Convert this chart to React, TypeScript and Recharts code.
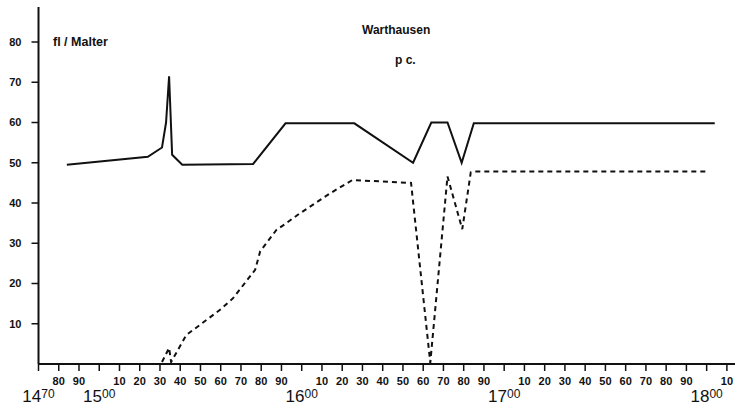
import { LineChart, Line, XAxis, YAxis } from 'recharts';

// fl / Malter series (solid)
const flYears = [1484, 1524, 1531, 1533, 1534.5, 1536, 1541, 1576, 1592, 1626, 1655, 1664, 1672, 1679, 1685, 1804];
const flValues = [49.5, 51.5, 53.8, 60, 71.5, 52, 49.5, 49.7, 59.8, 59.8, 50, 60, 60, 50, 59.8, 59.8];

// p.c. series (dashed)
const pcYears = [1531, 1534.5, 1535.5, 1543, 1550.5, 1559.5, 1566, 1577, 1579.5, 1587.5, 1591, 1599, 1614, 1625, 1654, 1663.5, 1672, 1679.3, 1683.5, 1685, 1801];
const pcValues = [0.5, 4, 0.5, 7.2, 10, 13.4, 16.3, 23.4, 28, 33.3, 34.5, 37.4, 42.4, 45.7, 45, 0.3, 46.6, 33.5, 47.6, 47.8, 47.8];

const yTicks = [10, 20, 30, 40, 50, 60, 70, 80];
const xTicks = [
  1470, 1480, 1490, 1500, 1510, 1520, 1530, 1540, 1550, 1560, 1570, 1580, 1590,
  1600, 1610, 1620, 1630, 1640, 1650, 1660, 1670, 1680, 1690,
  1700, 1710, 1720, 1730, 1740, 1750, 1760, 1770, 1780, 1790,
  1800, 1810,
];
const centuryLabels: Record<number, [string, string]> = {
  1470: ['14', '70'],
  1500: ['15', '00'],
  1600: ['16', '00'],
  1700: ['17', '00'],
  1800: ['18', '00'],
};

const flData = flYears.map((year, i) => ({ year, value: flValues[i] }));
const pcData = pcYears.map((year, i) => ({ year, value: pcValues[i] }));

const FONT = '"Liberation Sans", Arial, sans-serif';
const INK = '#111';

const YearTick = (props: any) => {
  const { x, y, payload } = props;
  const year = payload.value as number;
  const century = centuryLabels[year];
  if (century) {
    return (
      <text x={x} y={y + 31} textAnchor="middle" fill={INK} fontFamily={FONT} fontSize={17}>
        <tspan>{century[0]}</tspan>
        <tspan fontSize={12} dy={-4}>{century[1]}</tspan>
      </text>
    );
  }
  return (
    <text x={x} y={y + 14} textAnchor="middle" fill={INK} fontFamily={FONT} fontSize={11} fontWeight="bold">
      {year % 100}
    </text>
  );
};

const labelStyle: React.CSSProperties = {
  position: 'absolute',
  fontFamily: FONT,
  fontWeight: 'bold',
  fontSize: 12,
  lineHeight: '12px',
  color: INK,
  whiteSpace: 'nowrap',
};

export default function App() {
  return (
    <div style={{ position: 'absolute', left: 0, top: 0, width: 738, height: 408, background: '#fff' }}>
      <LineChart width={738} height={408} margin={{ top: 7, right: 3, left: 0, bottom: 0 }}>
        <XAxis
          type="number"
          dataKey="year"
          domain={[1470, 1814]}
          ticks={xTicks}
          allowDataOverflow
          height={44}
          tickSize={7}
          tickMargin={0}
          interval={0}
          axisLine={{ stroke: INK, strokeWidth: 2 }}
          tickLine={{ stroke: INK, strokeWidth: 1.5 }}
          tick={<YearTick />}
        />
        <YAxis
          type="number"
          domain={[0, 88.7]}
          ticks={yTicks}
          allowDataOverflow
          width={38.5}
          tickSize={7}
          tickMargin={10}
          interval={0}
          axisLine={{ stroke: INK, strokeWidth: 2 }}
          tickLine={{ stroke: INK, strokeWidth: 1.5 }}
          tick={{ fill: INK, fontSize: 11, fontWeight: 'bold', fontFamily: FONT }}
        />
        <Line
          data={flData}
          dataKey="value"
          type="linear"
          stroke={INK}
          strokeWidth={2}
          dot={false}
          isAnimationActive={false}
        />
        <Line
          data={pcData}
          dataKey="value"
          type="linear"
          stroke={INK}
          strokeWidth={2}
          strokeDasharray="5 4"
          dot={false}
          isAnimationActive={false}
        />
      </LineChart>
      <div style={{ ...labelStyle, left: 53, top: 36, fontSize: 12.5 }}>fl / Malter</div>
      <div style={{ ...labelStyle, left: 362, top: 24 }}>Warthausen</div>
      <div style={{ ...labelStyle, left: 395, top: 54 }}>p c.</div>
    </div>
  );
}
